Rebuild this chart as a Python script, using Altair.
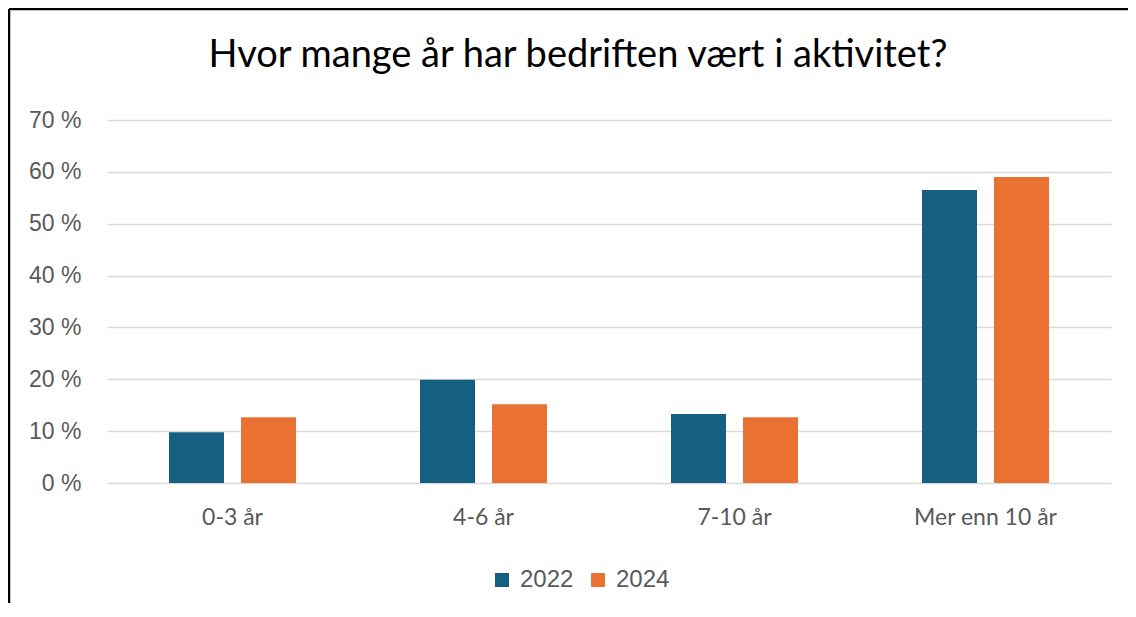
import altair as alt
import pandas as pd

categories = ["0-3 år", "4-6 år", "7-10 år", "Mer enn 10 år"]
years = ["2022", "2024"]
values_2022 = [9.8, 19.9, 13.3, 56.5]
values_2024 = [12.7, 15.2, 12.7, 59.0]
y_ticks = [0, 10, 20, 30, 40, 50, 60, 70]
colors = ["#156082", "#E97132"]
title_text = "Hvor mange år har bedriften vært i aktivitet?"

rows = []
for c, v in zip(categories, values_2022):
    rows.append({"kategori": c, "år": "2022", "verdi": v})
for c, v in zip(categories, values_2024):
    rows.append({"kategori": c, "år": "2024", "verdi": v})
df = pd.DataFrame(rows)

GRAY = "#595959"

bars = alt.Chart(df).mark_bar().encode(
    x=alt.X("kategori:N", sort=categories, title=None,
            scale=alt.Scale(paddingInner=0.494, paddingOuter=0.247),
            axis=alt.Axis(labelAngle=0, domain=False, ticks=False, labelPadding=23,
                          labelFontSize=23, labelColor=GRAY, labelFont="Lato")),
    xOffset=alt.XOffset("år:N", sort=years, scale=alt.Scale(paddingInner=0.236, paddingOuter=0)),
    y=alt.Y("verdi:Q", title=None, scale=alt.Scale(domain=[0, 70], nice=False),
            axis=alt.Axis(values=y_ticks, labelExpr="datum.value + ' %'", domain=False, ticks=False,
                          grid=True, gridColor="#d9d9d9", gridWidth=1.5, labelPadding=26,
                          labelFontSize=23, labelColor=GRAY, labelFont="Liberation Sans")),
    color=alt.Color("år:N", sort=years, scale=alt.Scale(domain=years, range=colors),
                    legend=alt.Legend(title=None, orient="none", direction="horizontal",
                                      legendX=383, legendY=448, symbolType="square",
                                      symbolSize=196, symbolStrokeWidth=0, labelFontSize=24,
                                      labelColor=GRAY, labelFont="Liberation Sans", columnPadding=12,
                                      labelOffset=6, padding=0)),
)

frame_df = pd.DataFrame({"a": [0]})
left_line = alt.Chart(frame_df).mark_rule(color="black", strokeWidth=2.5, clip=False).encode(
    x=alt.value(-98), y=alt.value(-111), y2=alt.value(495))
top_line = alt.Chart(frame_df).mark_rule(color="black", strokeWidth=2.5, clip=False).encode(
    x=alt.value(-98), x2=alt.value(1030), y=alt.value(-111))

title_df = pd.DataFrame({"t": [title_text]})
title = alt.Chart(title_df).mark_text(font="Lato", fontSize=38, color="#000000",
                                      align="center", baseline="alphabetic", clip=False).encode(
    text="t:N", x=alt.value(471), y=alt.value(-53))

chart = alt.layer(bars, left_line, top_line, title).properties(
    width=1004, height=363,
    autosize=alt.AutoSizeParams(type="none"),
    padding={"left": 99, "top": 112, "right": 17, "bottom": 120},
).configure_view(stroke=None)

chart.save("out.html", embed_options={"renderer": "svg", "actions": False})
